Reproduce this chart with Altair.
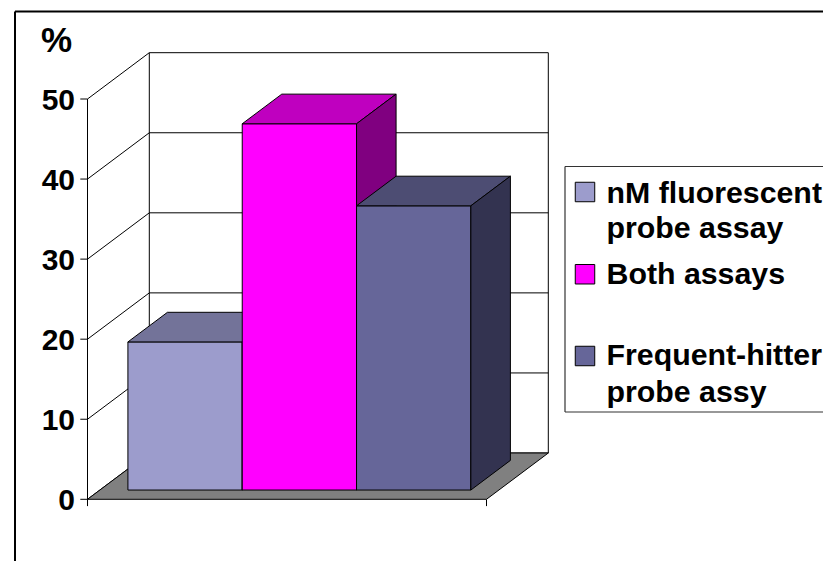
import altair as alt
import pandas as pd

series = ["nM fluorescent probe assay", "Both assays", "Frequent-hitter probe assy"]
values = [18.5, 45.75, 35.5]
ticks = [0, 10, 20, 30, 40, 50]
front_colors = ["#9C9CCC", "#FF00FF", "#666699"]
top_colors = ["#737399", "#BF00BF", "#4D4D73"]
side_colors = ["#4D4D66", "#800080", "#333350"]
legend_lines = [["nM fluorescent", "probe assay"], ["Both assays"], ["Frequent-hitter", "probe assy"]]

W, H = 815, 553
ORIGIN_X, ORIGIN_Y = 79.5, 491.3          # pixel position of (0, 0)
PX_PER_X, PX_PER_VAL = 399.0, 8.006
DX, DY = 61.8 / PX_PER_X, 46.3 / PX_PER_VAL   # full depth in data units
x_scale = alt.Scale(domain=[-ORIGIN_X / PX_PER_X, (W - ORIGIN_X) / PX_PER_X], nice=False, zero=False)
y_scale = alt.Scale(domain=[-(H - ORIGIN_Y) / PX_PER_VAL, ORIGIN_Y / PX_PER_VAL], nice=False, zero=False)
BAR_W, MARGIN = 0.2865, 0.0703
D0, D1 = 0.2, 0.84


def X(f="x"):
    return alt.X(f, type="quantitative", scale=x_scale, axis=None, title=None)


def Y(f="y"):
    return alt.Y(f, type="quantitative", scale=y_scale, axis=None, title=None)


layers = []

# walls, value ticks and category-axis ticks
top = max(ticks)
TICK = 7.2 / PX_PER_X
wall = []
for t in ticks:
    wall.append([-TICK, 0, t, t])
    wall.append([0, DX, t, t + DY])
    wall.append([DX, 1 + DX, t + DY, t + DY])
wall.append([0, 0, -0.85, top])
wall.append([1, 1, -0.85, 0])
wall.append([DX, DX, DY, top + DY])
wall.append([1 + DX, 1 + DX, DY, top + DY])
wall_df = pd.DataFrame(wall, columns=["x", "x2", "y", "y2"])
layers.append(alt.Chart(wall_df).mark_rule(color="black", strokeWidth=1).encode(
    x=X("x"), x2="x2", y=Y("y"), y2="y2"))

# value labels
layers.append(alt.Chart(pd.DataFrame({"y": ticks})).mark_text(
    font="Liberation Sans", fontWeight="bold", fontSize=30, align="right", baseline="alphabetic",
    color="black", dy=10.5).encode(
    x=alt.value(67), y=Y("y"), text=alt.Text("y:Q", format="d")))

# floor
floor = pd.DataFrame({"y": [0, DY], "x": [0, DX], "x2": [1, 1 + DX]})
layers.append(alt.Chart(floor).mark_area(orient="horizontal", color="#808080", stroke="black", strokeWidth=1).encode(
    y=Y("y"), x=X("x"), x2="x2"))

# bars
for i, v in enumerate(values):
    x0 = MARGIN + i * BAR_W
    x1 = x0 + BAR_W
    fy = D0 * DY
    fx = D0 * DX
    by = D1 * DY
    bx = D1 * DX
    front = pd.DataFrame({"x": [x0 + fx], "x2": [x1 + fx], "y": [v + fy], "y2": [fy]})
    layers.append(alt.Chart(front).mark_rect(color=front_colors[i], stroke="black", strokeWidth=1).encode(
        x=X("x"), x2="x2", y=Y("y"), y2="y2"))
    top_face = pd.DataFrame({"y": [v + fy, v + by],
                             "x": [x0 + fx, x0 + bx], "x2": [x1 + fx, x1 + bx]})
    layers.append(alt.Chart(top_face).mark_area(orient="horizontal", color=top_colors[i], stroke="black", strokeWidth=1).encode(
        y=Y("y"), x=X("x"), x2="x2"))
    side = pd.DataFrame({"x": [x1 + fx, x1 + bx], "y": [v + fy, v + by], "y2": [fy, by]})
    layers.append(alt.Chart(side).mark_area(orient="vertical", color=side_colors[i], stroke="black", strokeWidth=1).encode(
        x=X("x"), y=Y("y"), y2="y2"))


def frame_line(x, x2, y, y2, w=1.0, c="black"):
    return alt.Chart(pd.DataFrame({"a": [0]})).mark_rule(color=c, strokeWidth=w).encode(
        x=alt.value(x), x2=alt.value(x2), y=alt.value(y), y2=alt.value(y2))


def label(text, x, y, size, align="left"):
    return alt.Chart(pd.DataFrame({"t": [text]})).mark_text(
        font="Liberation Sans", fontWeight="bold", fontSize=size, align=align, baseline="alphabetic", color="black"
    ).encode(text="t:N", x=alt.value(x), y=alt.value(y))


# outer frame
layers.append(frame_line(7, W, 3.5, 3.5, 2))
layers.append(frame_line(7, 7, 3.5, H, 2))

# percent sign
layers.append(label("%", 33, 44, 35))

# legend box
layers.append(frame_line(557, W, 158.5, 158.5, 1.2, "#333333"))
layers.append(frame_line(557, 557, 158.5, 404, 1.2, "#333333"))
layers.append(frame_line(557, W, 404, 404, 1.2, "#333333"))
swatch_y = [184, 266.25, 348]
text_y = [[195, 230], [276], [357, 394]]
for i in range(3):
    layers.append(alt.Chart(pd.DataFrame({"s": [series[i]]})).mark_square(
        size=380, opacity=1, fill=front_colors[i], stroke="black", strokeWidth=1
    ).encode(x=alt.value(577), y=alt.value(swatch_y[i])))
    for line, ty in zip(legend_lines[i], text_y[i]):
        layers.append(label(line, 598.5, ty, 30.3))

chart = alt.layer(*layers).properties(width=W, height=H, padding=0, autosize="none", background="white").configure_view(stroke=None)
chart.save("out.html", embed_options={"renderer": "svg", "actions": False})
